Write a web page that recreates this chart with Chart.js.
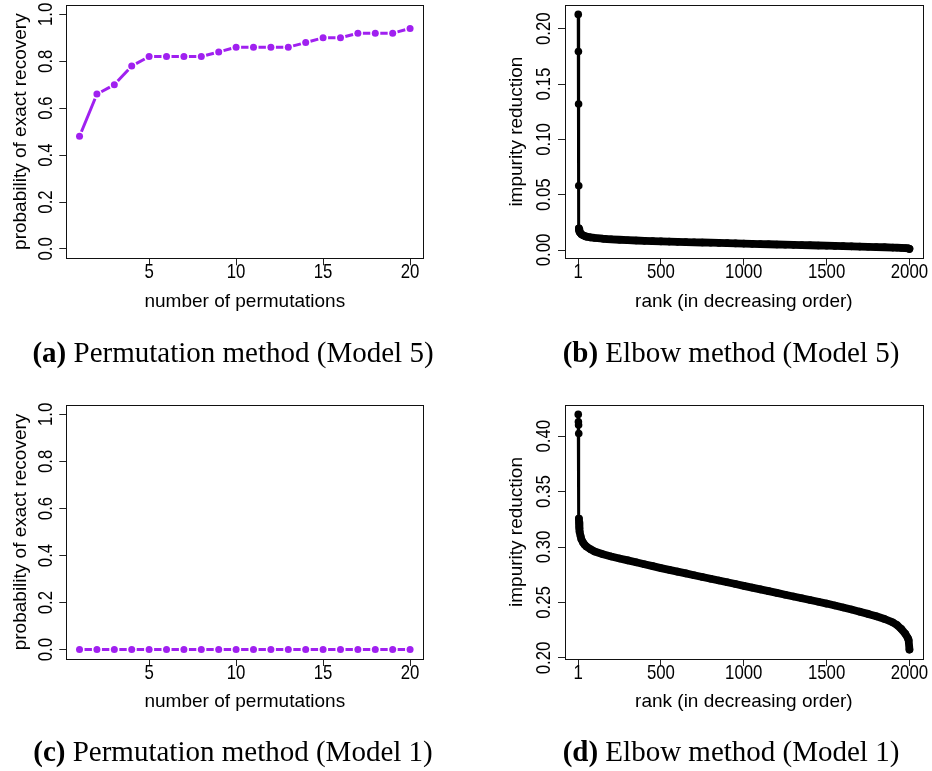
<!DOCTYPE html>
<html>
<head>
<meta charset="utf-8">
<script src="https://cdn.jsdelivr.net/npm/chart.js@4.4.1/dist/chart.umd.min.js"></script>
<style>
  body { margin: 0; background: #fff; }
  #page { position: relative; width: 932px; height: 771px; overflow: hidden; }
  canvas { position: absolute; }
  .cap { position: absolute; width: 466px; text-align: center; white-space: nowrap;
         font-family: "Liberation Serif", "Times New Roman", serif; font-size: 29px; line-height: 29px; color: #000; }
</style>
</head>
<body>
<div id="page">
  <canvas id="pa" width="466" height="385" style="left:0;top:0"></canvas>
  <canvas id="pb" width="466" height="385" style="left:466px;top:0"></canvas>
  <canvas id="pc" width="466" height="386" style="left:0;top:385px"></canvas>
  <canvas id="pd" width="466" height="386" style="left:466px;top:385px"></canvas>
  <div class="cap" style="left:0;top:338px"><b>(a)</b> Permutation method (Model 5)</div>
  <div class="cap" style="left:498px;top:338px"><b>(b)</b> Elbow method (Model 5)</div>
  <div class="cap" style="left:0;top:737px"><b>(c)</b> Permutation method (Model 1)</div>
  <div class="cap" style="left:498px;top:737px"><b>(d)</b> Elbow method (Model 1)</div>
</div>
<script>
// permutation method: probability of exact recovery
const permutations = [1, 2, 3, 4, 5, 6, 7, 8, 9, 10, 11, 12, 13, 14, 15, 16, 17, 18, 19, 20];
const recoveryModel5 = [0.48, 0.66, 0.70, 0.78, 0.82, 0.82, 0.82, 0.82, 0.84, 0.86,
                        0.86, 0.86, 0.86, 0.88, 0.90, 0.90, 0.92, 0.92, 0.92, 0.94];
const recoveryModel1 = [0, 0, 0, 0, 0, 0, 0, 0, 0, 0, 0, 0, 0, 0, 0, 0, 0, 0, 0, 0];
const permTicks = [5, 10, 15, 20];
const permTickLabels = ['5', '10', '15', '20'];
const probTicks = [0, 0.2, 0.4, 0.6, 0.8, 1];
const probTickLabels = ['0.0', '0.2', '0.4', '0.6', '0.8', '1.0'];

// elbow method: impurity reduction by rank
const ranks = [1, 2, 3, 4, 5, 6, 7, 8, 10, 15, 20, 30, 40, 50, 75, 100,
               150, 200, 250, 300, 350, 400, 450, 500, 550, 600, 650, 700, 750, 800, 850, 900,
               950, 1000, 1050, 1100, 1150, 1200, 1250, 1300, 1350, 1400, 1450, 1500, 1550, 1600,
               1650, 1700, 1750, 1800, 1850, 1900, 1925, 1950, 1975, 1990, 1995, 2000];
const impurityModel5 = [0.2130, 0.1795, 0.1320, 0.0580, 0.0196, 0.0185, 0.0178, 0.0172, 0.0165, 0.0152, 0.0143, 0.0133, 0.0126, 0.0121, 0.0114, 0.0109,
                        0.0102, 0.0097, 0.0093, 0.0089, 0.0086, 0.0083, 0.0080, 0.0078, 0.0076, 0.0074, 0.0072, 0.0070, 0.0068, 0.0066, 0.0064, 0.0062,
                        0.0060, 0.0058, 0.0056, 0.0054, 0.0052, 0.0050, 0.0048, 0.0047, 0.0045, 0.0043, 0.0041, 0.0039, 0.0037, 0.0035,
                        0.0033, 0.0031, 0.0029, 0.0027, 0.0025, 0.0022, 0.0021, 0.0019, 0.0017, 0.0015, 0.0013, 0.0010];
const impurityModel1 = [0.4196, 0.4130, 0.4100, 0.4024, 0.3256, 0.3220, 0.3190, 0.3170, 0.3140, 0.3100, 0.3070, 0.3040, 0.3020, 0.3005, 0.2980, 0.2960,
                        0.2935, 0.2915, 0.2897, 0.2880, 0.2862, 0.2845, 0.2828, 0.2810, 0.2794, 0.2778, 0.2762, 0.2746, 0.2730, 0.2714, 0.2698, 0.2682,
                        0.2666, 0.2650, 0.2634, 0.2618, 0.2602, 0.2586, 0.2570, 0.2554, 0.2538, 0.2522, 0.2506, 0.2490, 0.2472, 0.2454,
                        0.2436, 0.2417, 0.2397, 0.2375, 0.2351, 0.2320, 0.2296, 0.2262, 0.2218, 0.2180, 0.2160, 0.2075];
const rankTicks = [1, 500, 1000, 1500, 2000];
const rankTickLabels = ['1', '500', '1000', '1500', '2000'];
const imp5Ticks = [0, 0.05, 0.1, 0.15, 0.2];
const imp5TickLabels = ['0.00', '0.05', '0.10', '0.15', '0.20'];
const imp1Ticks = [0.2, 0.25, 0.3, 0.35, 0.4];
const imp1TickLabels = ['0.20', '0.25', '0.30', '0.35', '0.40'];

const PURPLE = '#a020f0';
const SANS = '"Liberation Sans", Arial, Helvetica, sans-serif';
const GAP = 5; // R type="b": line stops short of each point

// R extends each axis range by 4%
function rRange(lo, hi) {
    const d = (hi - lo) * 0.04;
    return [lo - d, hi + d];
}

function segLen(c) {
    return Math.hypot(c.p1.x - c.p0.x, c.p1.y - c.p0.y);
}

// box, tick labels (narrow, y ones rotated like R's las=0)
const rAxes = {
    id: 'rAxes',
    afterDraw(chart, args, o) {
	const ctx = chart.ctx;
	const a = chart.chartArea;
	ctx.save();
	ctx.strokeStyle = '#111';
	ctx.lineWidth = 1;
	ctx.strokeRect(Math.round(a.left) + 0.5, Math.round(a.top) + 0.5,
		       Math.round(a.right - a.left), Math.round(a.bottom - a.top));
	ctx.font = '21px ' + SANS;
	ctx.fillStyle = '#000';
	ctx.textAlign = 'center';
	ctx.textBaseline = 'middle';
	o.xTicks.forEach((v, i) => {
	    const px = chart.scales.x.getPixelForValue(v);
	    ctx.save();
	    ctx.translate(px, a.bottom + 14);
	    ctx.scale(0.8, 1);
	    ctx.fillText(o.xLabels[i], 0, 0);
	    ctx.restore();
	});
	o.yTicks.forEach((v, i) => {
	    const py = chart.scales.y.getPixelForValue(v);
	    ctx.save();
	    ctx.translate(a.left - 20.5, py);
	    ctx.rotate(-Math.PI / 2);
	    ctx.scale(0.8, 1);
	    ctx.fillText(o.yLabels[i], 0, 0);
	    ctx.restore();
	});
	ctx.restore();
    }
};

function axis(range, ticks, title, titlePad, size, isX) {
    return {
	type: 'linear',
	min: range[0],
	max: range[1],
	afterBuildTicks: s => { s.ticks = ticks.map(v => ({ value: v })); },
	afterFit: s => { if (isX) s.height = size; else s.width = size; },
	ticks: { display: false, autoSkip: false },
	grid: { display: true, drawOnChartArea: false, drawTicks: true, tickLength: 7, color: '#222', lineWidth: 1 },
	border: { display: false },
	title: {
	    display: true, text: title, color: '#000',
	    font: { family: SANS, size: 19 },
	    padding: isX ? { top: 0, bottom: titlePad } : { top: titlePad, bottom: 0 }
	}
    };
}

function panel(id, p) {
    const points = p.xs.map((x, i) => ({ x: x, y: p.ys[i] }));
    const ds = {
	data: points,
	borderColor: p.color,
	backgroundColor: p.color,
	pointBackgroundColor: p.color,
	pointBorderWidth: 0,
	pointRadius: p.radius,
	borderWidth: 3,
	tension: 0
    };
    if (p.gaps) {
	ds.segment = {
	    borderDash: c => [Math.max(segLen(c) - 2 * GAP, 0.1), 2 * GAP],
	    borderDashOffset: c => segLen(c) - GAP
	};
    } else {
	// dense part of the curve: overlapping points make a solid band
	ds.borderCapStyle = 'round';
	ds.borderJoinStyle = 'round';
	ds.segment = { borderWidth: c => (c.p0DataIndex >= 4 ? 7.8 : 3) };
    }
    return new Chart(document.getElementById(id), {
	type: 'line',
	data: { datasets: [ds] },
	plugins: [rAxes],
	options: {
	    responsive: false,
	    animation: false,
	    events: [],
	    layout: { padding: p.pad },
	    plugins: {
		legend: { display: false },
		tooltip: { enabled: false },
		rAxes: { xTicks: p.xTicks, xLabels: p.xLabels, yTicks: p.yTicks, yLabels: p.yLabels }
	    },
	    scales: {
		x: axis(p.xRange, p.xTicks, p.xTitle, p.xTitlePad, p.xHeight, true),
		y: axis(p.yRange, p.yTicks, p.yTitle, p.yTitlePad, p.yWidth, false)
	    }
	}
    });
}

const permRange = rRange(1, 20);
const rankRange = rRange(1, 2000);

panel('pa', {
    xs: permutations, ys: recoveryModel5, color: PURPLE, radius: 3.5, gaps: true,
    xRange: permRange, xTicks: permTicks, xLabels: permTickLabels,
    yRange: rRange(0, 1), yTicks: probTicks, yLabels: probTickLabels,
    xTitle: 'number of permutations', yTitle: 'probability of exact recovery',
    pad: { left: 0, top: 5, right: 42.7, bottom: 0 }, yWidth: 66.3, xHeight: 126.7,
    xTitlePad: 71.6, yTitlePad: 9.6
});
panel('pb', {
    xs: ranks, ys: impurityModel5, color: '#000', radius: 3.8, gaps: false,
    xRange: rankRange, xTicks: rankTicks, xLabels: rankTickLabels,
    yRange: rRange(Math.min(...impurityModel5), Math.max(...impurityModel5)), yTicks: imp5Ticks, yLabels: imp5TickLabels,
    xTitle: 'rank (in decreasing order)', yTitle: 'impurity reduction',
    pad: { left: 0, top: 5, right: 9.3, bottom: 0 }, yWidth: 99, xHeight: 126.7,
    xTitlePad: 71.6, yTitlePad: 39.3
});
panel('pc', {
    xs: permutations, ys: recoveryModel1, color: PURPLE, radius: 3.5, gaps: true,
    xRange: permRange, xTicks: permTicks, xLabels: permTickLabels,
    yRange: rRange(0, 1), yTicks: probTicks, yLabels: probTickLabels,
    xTitle: 'number of permutations', yTitle: 'probability of exact recovery',
    pad: { left: 0, top: 20, right: 42.7, bottom: 0 }, yWidth: 66.3, xHeight: 112,
    xTitlePad: 57.6, yTitlePad: 9.6
});
panel('pd', {
    xs: ranks, ys: impurityModel1, color: '#000', radius: 3.8, gaps: false,
    xRange: rankRange, xTicks: rankTicks, xLabels: rankTickLabels,
    yRange: rRange(Math.min(...impurityModel1), Math.max(...impurityModel1)), yTicks: imp1Ticks, yLabels: imp1TickLabels,
    xTitle: 'rank (in decreasing order)', yTitle: 'impurity reduction',
    pad: { left: 0, top: 20, right: 9.3, bottom: 0 }, yWidth: 99, xHeight: 112,
    xTitlePad: 57.6, yTitlePad: 39.3
});
</script>
</body>
</html>
